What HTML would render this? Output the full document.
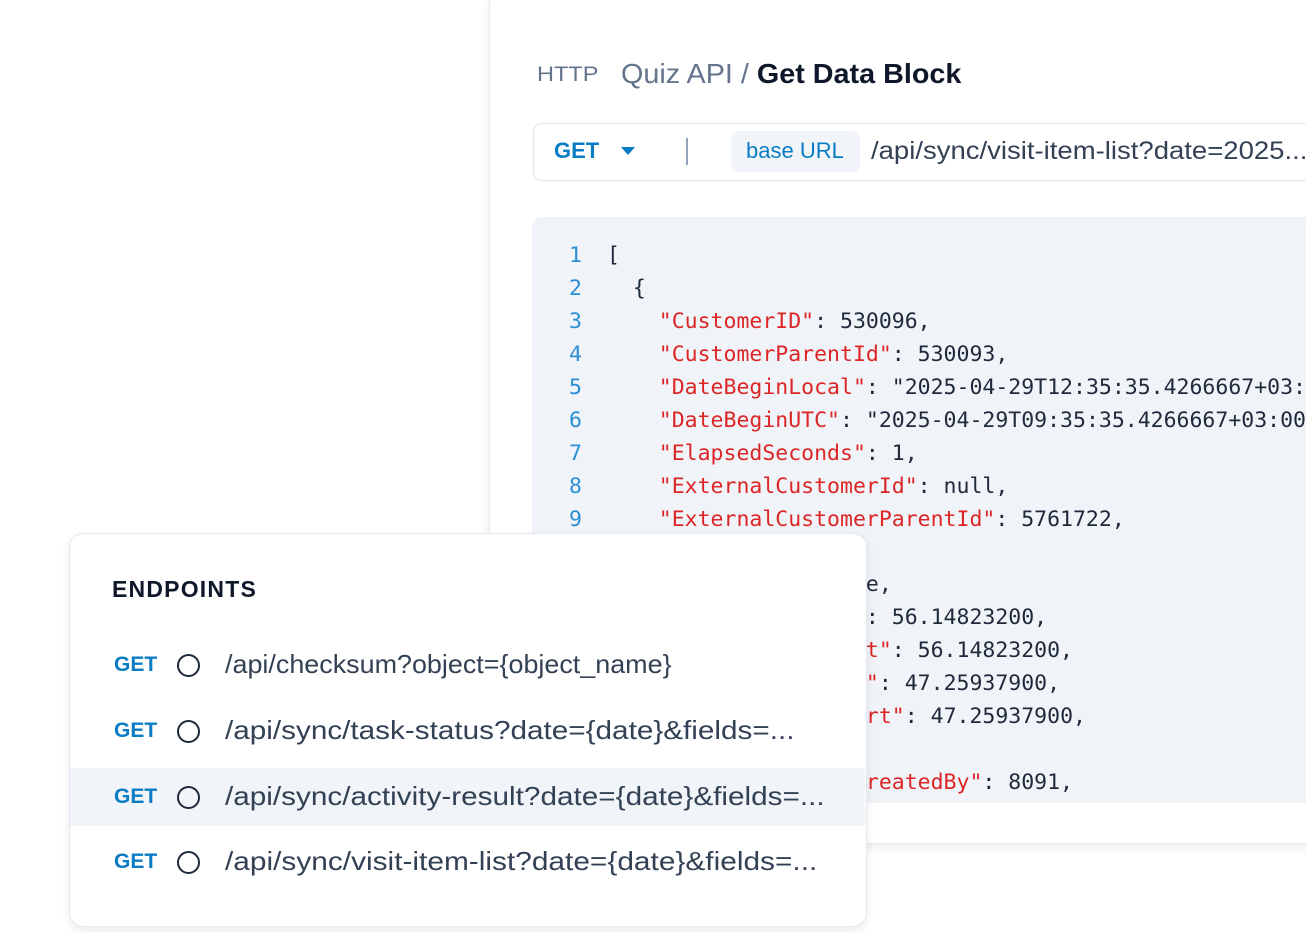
<!DOCTYPE html>
<html><head><meta charset="utf-8"><style>
*{margin:0;padding:0;box-sizing:border-box}
body{width:1306px;height:932px;background:#fff;position:relative;overflow:hidden;font-family:"Liberation Sans",sans-serif}
.card{position:absolute;left:489px;top:-12px;width:860px;height:856px;background:#fff;border:1.5px solid #e5e9f0;border-radius:16px;box-shadow:0 4px 10px rgba(15,23,42,.08)}
.abs{position:absolute;white-space:nowrap}
.code{position:absolute;left:532px;top:217px;width:800px;height:586px;background:#f0f3f8;border-radius:10px;overflow:hidden}
.ln{position:absolute;left:0;width:50px;text-align:right;color:#2a8fd4;font:21.5px "DejaVu Sans Mono",monospace}
.cl{position:absolute;left:75px;color:#1e293b;font:21.5px "DejaVu Sans Mono",monospace;white-space:pre}
.k{color:#dc2626}
.ep{position:absolute;left:69px;top:533px;width:798px;height:394px;background:#fff;border:1.5px solid #e2e8f0;border-radius:14px;box-shadow:0 4px 10px rgba(15,23,42,.08)}
.row{position:absolute;left:0;width:795px;height:58px}
.get{position:absolute;left:44px;top:50%;transform:translateY(-50%);color:#0a7cc4;font-weight:700;font-size:21px}
.circ{position:absolute;left:107px;top:50%;margin-top:-11px;width:23px;height:23px;border:2px solid #1e293b;border-radius:50%}
.path{position:absolute;left:155px;top:50%;transform-origin:left center;color:#334155;font-size:26px;white-space:nowrap;line-height:30px;margin-top:-16px}
</style></head><body>
<div class="card"></div>
<div class="abs" style="left:537px;top:63px;font-size:21px;color:#64748b;transform:scaleX(1.12);transform-origin:left">HTTP</div>
<div class="abs" style="left:621px;top:58px;font-size:28px;color:#64748b;transform:scaleX(1.027);transform-origin:left">Quiz API / <span style="color:#0f172a;font-weight:600">Get Data Block</span></div>
<div class="abs" style="left:533px;top:123px;width:800px;height:58px;border:1.5px solid #e2e8f0;border-radius:9px;background:#fff;box-shadow:0 1px 3px rgba(0,0,0,.04)"></div>
<div class="abs" style="left:554px;top:138px;font-size:22px;font-weight:700;color:#0a7cc4">GET</div>
<div class="abs" style="left:621px;top:147px;width:0;height:0;border-left:7px solid transparent;border-right:7px solid transparent;border-top:8px solid #0a7cc4"></div>
<div class="abs" style="left:686px;top:138px;width:2px;height:27px;background:#94a3b8"></div>
<div class="abs" style="left:731px;top:131px;width:129px;height:41px;background:#f1f5f9;border-radius:7px"></div>
<div class="abs" style="left:746px;top:138px;font-size:22px;color:#0a7cc4">base URL</div>
<div class="abs" style="left:871px;top:137px;font-size:25px;color:#334155;transform:scaleX(1.1);transform-origin:left">/api/sync/visit-item-list?date=2025...</div>
<div class="code">
<div class="ln" style="top:26px">1</div><div class="cl" style="top:26px">[</div>
<div class="ln" style="top:59px">2</div><div class="cl" style="top:59px">  {</div>
<div class="ln" style="top:92px">3</div><div class="cl" style="top:92px">    <span class="k">"CustomerID"</span>: 530096,</div>
<div class="ln" style="top:125px">4</div><div class="cl" style="top:125px">    <span class="k">"CustomerParentId"</span>: 530093,</div>
<div class="ln" style="top:158px">5</div><div class="cl" style="top:158px">    <span class="k">"DateBeginLocal"</span>: "2025-04-29T12:35:35.4266667+03:00",</div>
<div class="ln" style="top:191px">6</div><div class="cl" style="top:191px">    <span class="k">"DateBeginUTC"</span>: "2025-04-29T09:35:35.4266667+03:00",</div>
<div class="ln" style="top:224px">7</div><div class="cl" style="top:224px">    <span class="k">"ElapsedSeconds"</span>: 1,</div>
<div class="ln" style="top:257px">8</div><div class="cl" style="top:257px">    <span class="k">"ExternalCustomerId"</span>: null,</div>
<div class="ln" style="top:290px">9</div><div class="cl" style="top:290px">    <span class="k">"ExternalCustomerParentId"</span>: 5761722,</div>
<div class="ln" style="top:323px">10</div><div class="cl" style="top:355px">    <span class="k">"IsActive"</span>: false,</div>
<div class="cl" style="top:388px">    <span class="k">"LatitudeFinish"</span>: 56.14823200,</div>
<div class="cl" style="top:421px">    <span class="k">"LatitudeVisitOut"</span>: 56.14823200,</div>
<div class="cl" style="top:454px">    <span class="k">"LongitudeFinish"</span>: 47.25937900,</div>
<div class="cl" style="top:487px">    <span class="k">"LongitudeAppStart"</span>: 47.25937900,</div>
<div class="cl" style="top:553px">    <span class="k">"VisitItemEntryCreatedBy"</span>: 8091,</div>
</div>
<div class="ep">
<div class="abs" style="left:42px;top:42px;font-size:23px;font-weight:700;color:#0f172a;letter-spacing:1.2px">ENDPOINTS</div>
<div class="row" style="top:102px"><span class="get">GET</span><span class="circ"></span><span class="path" style="transform:scaleX(1.035)">/api/checksum?object={object_name}</span></div>
<div class="row" style="top:168px"><span class="get">GET</span><span class="circ"></span><span class="path" style="transform:scaleX(1.142)">/api/sync/task-status?date={date}&amp;fields=...</span></div>
<div class="row" style="top:234px;background:#f1f4f8"><span class="get">GET</span><span class="circ"></span><span class="path" style="transform:scaleX(1.143)">/api/sync/activity-result?date={date}&amp;fields=...</span></div>
<div class="row" style="top:299px"><span class="get">GET</span><span class="circ"></span><span class="path" style="transform:scaleX(1.148)">/api/sync/visit-item-list?date={date}&amp;fields=...</span></div>
</div>
</body></html>
